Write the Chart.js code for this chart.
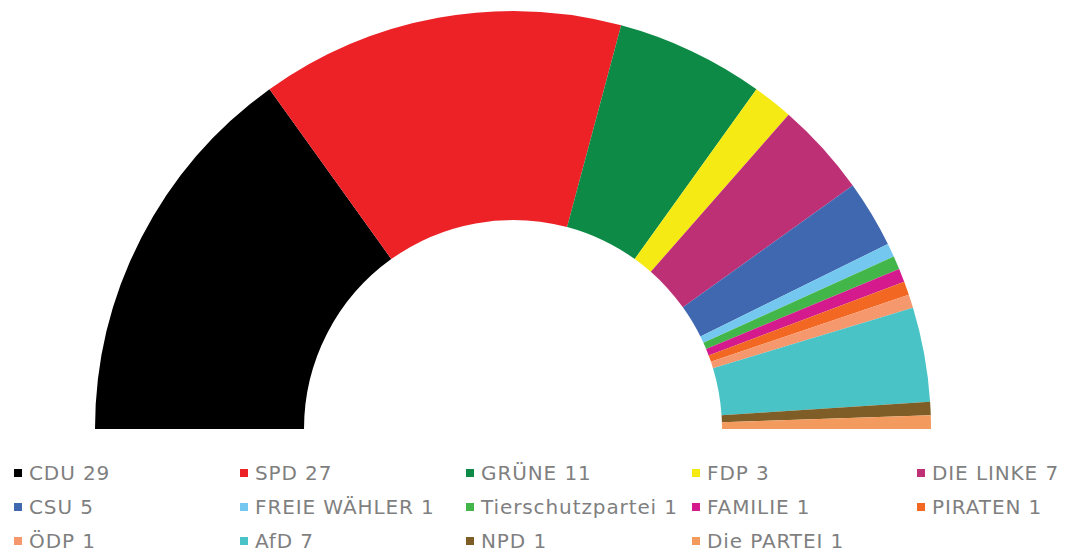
<!DOCTYPE html>
<html>
<head>
<meta charset="utf-8">
<script src="https://cdn.jsdelivr.net/npm/chart.js@4"></script>
<style>
  html, body { margin: 0; padding: 0; background: #fff; }
  #wrap { position: relative; width: 1068px; height: 554px; }
  #box { position: absolute; left: 0; top: 0; width: 1068px; height: 440px; }
  .item { position: absolute; font-family: "DejaVu Sans", Verdana, sans-serif; font-size: 20px; letter-spacing: 0.9px; color: #7f7f7f; white-space: nowrap; line-height: 20px; }
  .item i { position: absolute; left: 0; top: 6px; width: 8px; height: 8px; }
  .item span { position: absolute; left: 15px; top: 0; }
</style>
</head>
<body>
<div id="wrap">
  <div id="box"><canvas id="myChart"></canvas></div>
  <div id="legend"></div>
</div>
<script>
var parties = ['CDU', 'SPD', 'GRÜNE', 'FDP', 'DIE LINKE', 'CSU', 'FREIE WÄHLER', 'Tierschutzpartei', 'FAMILIE', 'PIRATEN', 'ÖDP', 'AfD', 'NPD', 'Die PARTEI'];
var seats = [29, 27, 11, 3, 7, 5, 1, 1, 1, 1, 1, 7, 1, 1];
var colors = ['#000000', '#EC2227', '#0E8A47', '#F5EA14', '#BE3076', '#4068B0', '#74C8F0', '#43B649', '#D41A8D', '#F26822', '#F6986E', '#49C3C6', '#7E5E26', '#F39A5E'];

var labels = parties.map(function (p, i) { return p + ' ' + seats[i]; });

var chart = new Chart("myChart", {
    type: "doughnut",
    data: {
        labels: labels,
        datasets: [{
            data: seats,
            backgroundColor: colors,
            borderWidth: 0
        }]
    },
    options: {
        responsive: true,
        maintainAspectRatio: false,
        animation: false,
        rotation: -90,
        circumference: 180,
        cutout: '50%',
        layout: { padding: { top: 11, bottom: 11, left: 0, right: 42 } },
        plugins: {
            legend: { display: false },
            tooltip: { enabled: false }
        }
    }
});

// legend laid out like the original: 5 columns, 3 rows
var colX = [14, 240, 466, 692, 917];
var rowY = [463, 497, 531];
var legend = document.getElementById('legend');
chart.legend.legendItems.forEach(function (it, i) {
    var d = document.createElement('div');
    d.className = 'item';
    d.style.left = colX[i % 5] + 'px';
    d.style.top = rowY[Math.floor(i / 5)] + 'px';
    d.innerHTML = '<i style="background:' + it.fillStyle + '"></i><span>' + it.text + '</span>';
    legend.appendChild(d);
});
</script>
</body>
</html>
